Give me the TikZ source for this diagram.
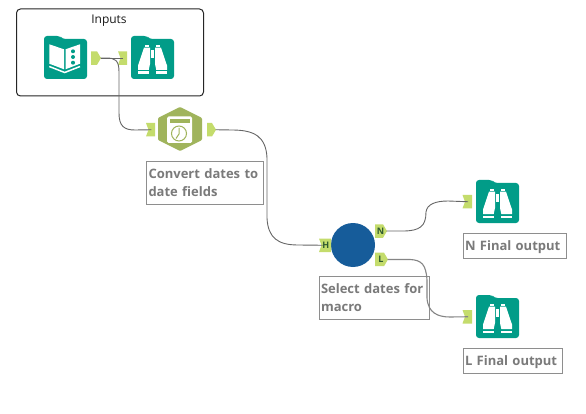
\documentclass[tikz,border=0pt]{standalone}
\usepackage{fontspec}
\setmainfont{Open Sans}
\definecolor{teal}{HTML}{019C88}
\definecolor{lime}{HTML}{C4DC6C}
\definecolor{hexg}{HTML}{A0B45C}
\definecolor{wire}{HTML}{666666}
\definecolor{lblc}{HTML}{7A7A7A}
\definecolor{lbld}{HTML}{8E8E8E}
\definecolor{mblue}{HTML}{165C9A}
\definecolor{portt}{HTML}{2F5A2F}
\tikzset{
  wirestyle/.style={draw=wire,line width=0.9pt},
  labelbox/.style={draw=lbld,line width=1pt,text=lblc,font=\bfseries\fontsize{13}{18}\selectfont,anchor=north west,align=left,inner xsep=2pt,inner ysep=0pt},
  portnode/.style={inner sep=0pt,minimum height=13pt,text=portt,font=\bfseries\fontsize{9}{9}\selectfont},
  toolicon/.style={inner sep=0pt,minimum size=43pt},
  browse/.pic={
    \fill[teal,rounded corners=3pt] (0,0)--(16,0)--(18.5,3)--(43,3)--(43,43)--(0,43)--cycle;
    \fill[white] (14.3,8.7) rectangle (18.3,10.7);
    \fill[white] (24.7,8.7) rectangle (28.7,10.7);
    \fill[white] (13,11.7)--(19,11.7)--(19,28)--(17.7,34)--(7,34)--(7,29.5)--cycle;
    \fill[white] (30,11.7)--(24,11.7)--(24,28)--(25.3,34)--(36,34)--(36,29.5)--cycle;
    \fill[white] (20,14) rectangle (23,22);
    \fill[white] (7,35.5) rectangle (17.7,38);
    \fill[white] (25.3,35.5) rectangle (36,38);
  },
  inputbook/.pic={
    \fill[teal,rounded corners=3pt] (0,0)--(16,0)--(18.5,3)--(43,3)--(43,43)--(0,43)--cycle;
    \fill[white] (5.3,8.3)--(20,13.3)--(20,33.3)--(5.3,27.7)--cycle;
    \fill[white] (21.5,13.3)--(36,8.3)--(36,27.7)--(21.5,33.3)--cycle;
    \fill[teal] (29,15.3) circle (2) (29,21) circle (2) (29,26.7) circle (2);
    \draw[white,line width=1.5pt] (5.3,30.5)--(20.7,36.5)--(36,30.5);
  }
}
\newcommand{\outport}[5]{% name x y(top) w letter
  \fill[lime] (#2,#3) -- ++(#4-4,0) -- ++(4,6.75) -- ++(-4,6.75) -- ++(-#4+4,0) -- cycle;
  \node[portnode,minimum width=#4 pt] (#1) at (#2+#4/2-0.5,#3+6.75) {#5};}
\newcommand{\inport}[5]{% name x y(top) w letter
  \fill[lime] (#2,#3) -- ++(#4,0) -- ++(0,13.5) -- ++(-#4,0) -- ++(2.5,-6.75) -- cycle;
  \node[portnode,minimum width=#4 pt] (#1) at (#2+#4/2+0.8,#3+6.75) {#5};}
\begin{document}
\begin{tikzpicture}[x=1pt,y=-1pt]
\useasboundingbox (0,0) rectangle (586,414);
\fill[white] (0,0) rectangle (586,414);
% container
\node[draw=black!85,line width=1pt,rounded corners=4pt,inner sep=0pt,minimum width=187pt,minimum height=87pt,anchor=north west] (container) at (16,8.5) {};
\node[font=\fontsize{12}{14}\selectfont,text=black!90] (inputsT) at (109,21) {Inputs};
% tools
\pic at (44,36) {inputbook};
\node[toolicon] (inTool) at (65.5,57.5) {};
\pic at (131,36) {browse};
\node[toolicon] (browse1) at (152.5,57.5) {};
\outport{inOut}{91}{51.3}{10}{}
\inport{brIn}{118}{51.3}{9}{}
% formula
\fill[hexg,rounded corners=1pt] (180,107)--(202,118)--(202,140)--(180,151)--(158,140)--(158,118)--cycle;
\node[inner sep=0pt,minimum size=40pt] (formula) at (180,129) {};
\fill[white,rounded corners=1.5pt] (167,116.5) rectangle (192,143);
\fill[hexg] (170,119) rectangle (190,123);
\draw[hexg,line width=1pt] (179,133.5) circle (7.5);
\draw[hexg,line width=1pt] (179,128) -- (179,134) -- (176,138.5);
\inport{fIn}{146}{123}{9}{}
\outport{fOut}{207}{123}{9}{}
\node[labelbox,text width=113pt,minimum height=43pt] (fLabel) at (146,161) {Convert dates to\\date fields};
% macro
\node[circle,fill=mblue,inner sep=0pt,minimum size=44pt] (macro) at (353,245) {};
\inport{mH}{319}{238.5}{12}{H}
\outport{mN}{375}{224.3}{12}{N}
\outport{mL}{375}{252.7}{13}{L}
\node[labelbox,text width=106pt,minimum height=43pt] (mLabel) at (318.5,276) {Select dates for\\macro};
% outputs
\pic at (476,180) {browse};
\node[toolicon] (browseN) at (497.5,201.5) {};
\inport{nIn}{462.5}{195}{9.5}{}
\node[labelbox,text width=99pt,minimum height=25pt,text height=9.5pt,text depth=0pt,anchor=west] (nLabel) at (462.5,245.5) {N Final output};
\pic at (476,295) {browse};
\node[toolicon] (browseL) at (497.5,316.5) {};
\inport{lIn}{462.5}{310}{9.5}{}
\node[labelbox,text width=95pt,minimum height=25pt,text height=9.5pt,text depth=0pt,anchor=west] (lLabel) at (462.5,360.5) {L Final output};
% wires
\draw[wirestyle] (inOut.east) -- (brIn.center);
\draw[wirestyle] (inOut.east) -- (106,58) .. controls (115,58) and (119,60) .. (119,72) -- (119,113) .. controls (119,126) and (124,130) .. (135,130) -- (fIn.center);
\draw[wirestyle] (fOut.east) -- (232,130) .. controls (255,130) and (266,137) .. (267,158) -- (267,218) .. controls (268,238) and (278,245) .. (298,245) -- ([xshift=3pt]mH.west);
\draw[wirestyle] (mN.east) -- (403,231) .. controls (420,231) and (426,226) .. (426,212) .. controls (427,204) and (436,201) .. (448,201) -- (nIn.center);
\draw[wirestyle,draw=wire!80,line width=1.1pt] (mL.east) -- (410,259.5) .. controls (422,260) and (426,265) .. (427,280) -- (427,298) .. controls (428,313) and (438,317) .. (450,317) -- (lIn.center);
\end{tikzpicture}
\end{document}
